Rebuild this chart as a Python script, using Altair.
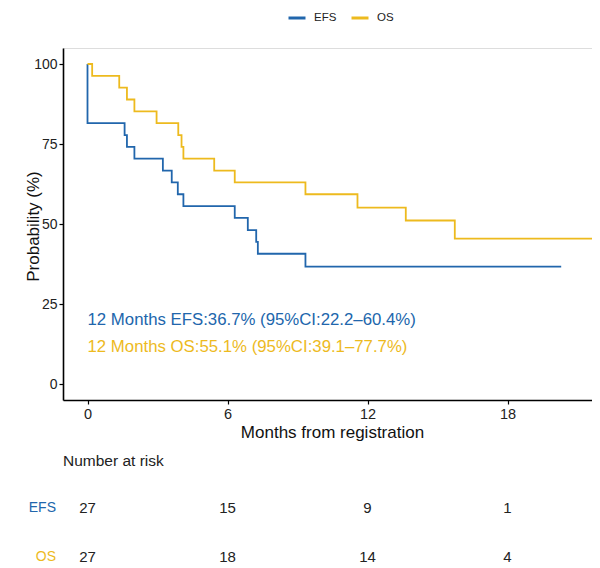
import altair as alt
import pandas as pd

# Kaplan-Meier step points (months, survival %)
efs_time = [0, 0, 1.59, 1.69, 2.01, 3.23, 3.61, 3.87, 4.11, 6.31, 6.87, 7.23, 7.30, 9.34, 20.3]
efs_surv = [100, 81.5, 77.8, 74.1, 70.4, 66.7, 63.0, 59.3, 55.6, 51.9, 48.1, 44.4, 40.7, 36.7, 36.7]
os_time = [0, 0.2, 1.36, 1.69, 2.01, 2.96, 3.89, 4.03, 4.11, 5.43, 6.31, 9.34, 11.57, 13.64, 15.74, 21.95]
os_surv = [100, 96.3, 92.6, 88.9, 85.2, 81.5, 77.8, 74.1, 70.4, 66.7, 63.0, 59.3, 55.1, 51.1, 45.4, 45.4]

series = ["EFS", "OS"]
colors = ["#2166AC", "#EDBA1E"]

risk_times = [0, 6, 12, 18]
efs_risk = [27, 15, 9, 1]
os_risk = [27, 18, 14, 4]

annot_text = ["12 Months EFS:36.7% (95%CI:22.2\u201360.4%)",
              "12 Months OS:55.1% (95%CI:39.1\u201377.7%)"]
annot_y = [20, 11.5]

FONT = "Liberation Sans"
W, H = 529, 352

curve = pd.DataFrame({
    "t": efs_time + os_time,
    "p": efs_surv + os_surv,
    "series": ["EFS"] * len(efs_time) + ["OS"] * len(os_time),
    "idx": list(range(len(efs_time))) + list(range(len(os_time))),
})

xscale = alt.Scale(domain=[-1.05, 21.62], nice=False, zero=False)
yscale = alt.Scale(domain=[-5, 105], nice=False, zero=False)

xaxis = alt.Axis(values=[0, 6, 12, 18], title="Months from registration", grid=False,
                 domainColor="black", domainWidth=1.6, tickColor="black", tickWidth=1.2,
                 tickSize=4, labelPadding=3, labelFontSize=14.5, labelColor="#222222",
                 labelFont=FONT, titleFont=FONT, titleFontSize=17, titleFontWeight="normal",
                 titleColor="#111111", titleX=269, titleY=32, titleBaseline="middle")
yaxis = alt.Axis(values=[0, 25, 50, 75, 100], title="Probability (%)", grid=False,
                 domainColor="black", domainWidth=1.6, tickColor="black", tickWidth=1.2,
                 tickSize=4, labelPadding=2, labelFontSize=14, labelColor="#222222",
                 labelFont=FONT, titleFont=FONT, titleFontSize=17, titleFontWeight="normal",
                 titleColor="#111111", titleX=-30, titleY=178, titleBaseline="middle")

x_enc = alt.X("t:Q", scale=xscale, axis=xaxis)
y_enc = alt.Y("p:Q", scale=yscale, axis=yaxis)

lines = alt.Chart(curve).mark_line(interpolate="step-after", strokeWidth=1.8, clip=True).encode(
    x=x_enc,
    y=y_enc,
    color=alt.Color("series:N", scale=alt.Scale(domain=series, range=colors),
                    legend=alt.Legend(orient="none", legendX=224, legendY=-40, direction="horizontal",
                                      title=None, symbolType="stroke", symbolSize=289,
                                      symbolStrokeWidth=3, labelFontSize=11.5, labelFont=FONT,
                                      labelColor="#222222", labelOffset=7, columnPadding=8)),
    order="idx:Q",
)

annot = pd.DataFrame({"t": [0, 0], "p": annot_y, "label": annot_text, "series": series})
annot_layers = []
for i, s in enumerate(series):
    annot_layers.append(
        alt.Chart(annot[annot.series == s]).mark_text(
            align="left", baseline="middle", fontSize=16.8, font=FONT, color=colors[i]
        ).encode(x=x_enc, y=y_enc, text="label:N")
    )

risk_rows = []
for s, vals in zip(series, [efs_risk, os_risk]):
    for t, n in zip(risk_times, vals):
        risk_rows.append({"t": t, "n": n, "series": s})
risk = pd.DataFrame(risk_rows)

row_y = {"EFS": 460, "OS": 509}
risk_layers = []
for i, s in enumerate(series):
    risk_layers.append(
        alt.Chart(risk[risk.series == s]).mark_text(
            align="center", baseline="middle", fontSize=15, font=FONT, color="#222222"
        ).encode(x=x_enc, y=alt.value(row_y[s]), text="n:Q")
    )
    risk_layers.append(
        alt.Chart(pd.DataFrame({"label": [s]})).mark_text(
            align="right", baseline="middle", fontSize=14, font=FONT, color=colors[i]
        ).encode(x=alt.value(-7), y=alt.value(row_y[s]), text="label:N")
    )

risk_title = alt.Chart(pd.DataFrame({"label": ["Number at risk"]})).mark_text(
    align="left", baseline="middle", fontSize=15.5, font=FONT, color="#222222"
).encode(x=alt.value(0), y=alt.value(413), text="label:N")

chart = alt.layer(lines, *annot_layers, *risk_layers, risk_title).properties(
    width=W, height=H,
    padding={"left": 55, "top": 40, "right": 0, "bottom": 168},
    autosize=alt.AutoSizeParams(type="none"),
).configure_view(stroke=None).configure(font=FONT)

chart.save("out.html", embed_options={"renderer": "svg", "actions": False})
